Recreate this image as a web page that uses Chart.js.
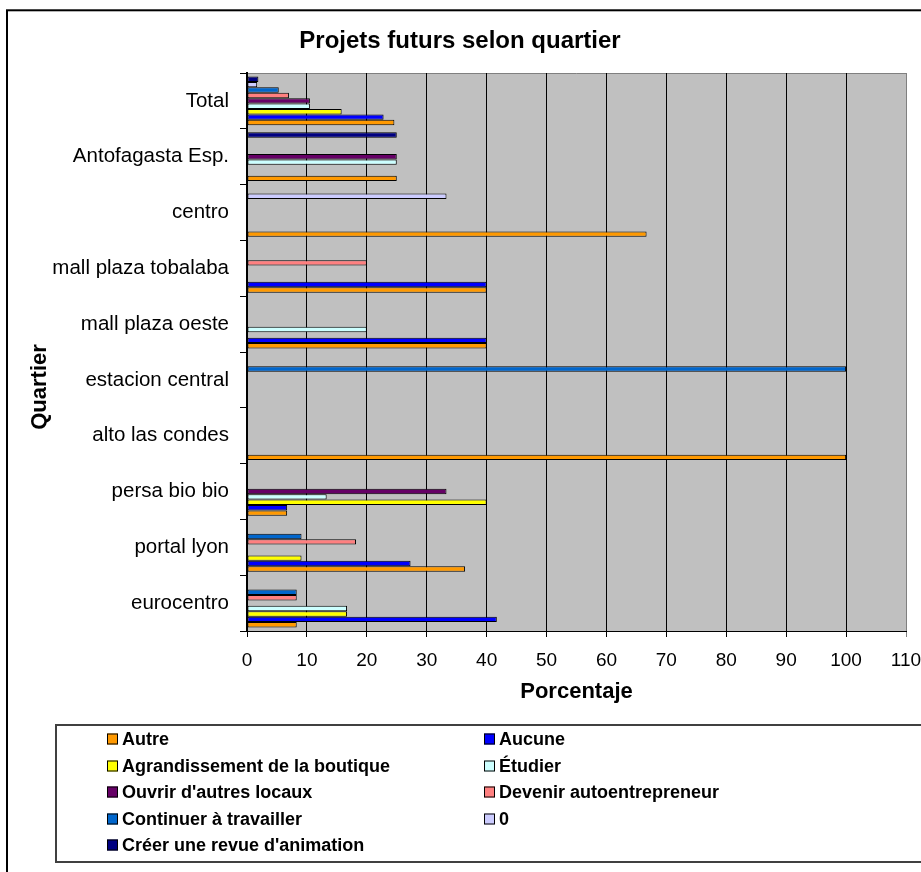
<!DOCTYPE html>
<html>
<head>
<meta charset="utf-8">
<script src="https://cdn.jsdelivr.net/npm/chart.js@4.4.1/dist/chart.umd.min.js"></script>
<style>
  html, body { margin: 0; padding: 0; background: #ffffff; }
  #wrap { width: 921px; height: 872px; position: relative; }
</style>
</head>
<body>
<div id="wrap"><canvas id="c" width="921" height="872"></canvas></div>
<script>
// Districts, top to bottom
const quartiers = ['Total', 'Antofagasta Esp.', 'centro', 'mall plaza tobalaba', 'mall plaza oeste',
  'estacion central', 'alto las condes', 'persa bio bio', 'portal lyon', 'eurocentro'];

// Share of answers (%) per future project
const autre          = [24.6, 25, 66.7, 40, 40, null, 100, 6.7, 36.4, 8.3];
const aucune         = [22.8, null, null, 40, 40, null, null, 6.7, 27.3, 41.7];
const agrandissement = [15.8, null, null, null, null, null, null, 40, 9.1, 16.7];
const etudier        = [10.5, 25, null, null, 20, null, null, 13.3, null, 16.7];
const ouvrir         = [10.5, 25, null, null, null, null, null, 33.3, null, null];
const devenir        = [7.0, null, null, 20, null, null, null, null, 18.2, 8.3];
const continuer      = [5.3, null, null, null, null, 100, null, null, 9.1, 8.3];
const zero           = [1.7, null, 33.3, null, null, null, null, null, null, null];
const creer          = [1.9, 25, null, null, null, null, null, null, null, null];

const seriesNames = ['Autre', 'Aucune', 'Agrandissement de la boutique', 'Étudier',
  "Ouvrir d'autres locaux", 'Devenir autoentrepreneur', 'Continuer à travailler', '0',
  "Créer une revue d'animation"];
const seriesValues = [autre, aucune, agrandissement, etudier, ouvrir, devenir, continuer, zero, creer];
const seriesColors = ['#FF9900', '#0000FF', '#FFFF00', '#CCFFFF', '#660066', '#FF8080',
  '#0066CC', '#CCCCFF', '#000080'];

const xTicks = [0, 10, 20, 30, 40, 50, 60, 70, 80, 90, 100, 110];

const FONT = "'Liberation Sans', Arial, sans-serif";

// First series sits at the bottom of each group, so datasets are added in reverse
const datasets = seriesNames.map((name, i) => ({
  label: name,
  data: seriesValues[i],
  backgroundColor: seriesColors[i],
  borderColor: '#000000',
  borderWidth: 1,
  borderSkipped: false,
  barPercentage: 1.0,
  categoryPercentage: 0.873,
  legendOrder: i
})).reverse();

const frame = {
  id: 'frame',
  beforeDraw(chart) {
    const ctx = chart.ctx;
    const a = chart.chartArea;
    ctx.save();
    ctx.fillStyle = '#ffffff';
    ctx.fillRect(0, 0, chart.width, chart.height);
    ctx.fillStyle = '#C0C0C0';
    ctx.fillRect(a.left, a.top, a.right - a.left, a.bottom - a.top);
    ctx.strokeStyle = '#808080';
    ctx.lineWidth = 1;
    ctx.beginPath();
    ctx.moveTo(a.left, a.top + 0.5);
    ctx.lineTo(a.right, a.top + 0.5);
    ctx.stroke();
    ctx.restore();
  },
  afterDraw(chart) {
    const ctx = chart.ctx;
    const a = chart.chartArea;
    ctx.save();
    // outer chart border
    ctx.strokeStyle = '#000000';
    ctx.lineWidth = 2;
    ctx.strokeRect(7, 10.3, 940, 900);

    // title
    ctx.fillStyle = '#000000';
    ctx.textAlign = 'center';
    ctx.textBaseline = 'middle';
    ctx.font = 'bold 24px ' + FONT;
    ctx.fillText('Projets futurs selon quartier', 460, 41);

    // axis titles
    ctx.font = 'bold 22px ' + FONT;
    ctx.fillText('Porcentaje', (a.left + a.right) / 2, 692);
    ctx.save();
    ctx.translate(40, 387);
    ctx.rotate(-Math.PI / 2);
    ctx.fillText('Quartier', 0, 0);
    ctx.restore();

    // legend box
    ctx.strokeStyle = '#404040';
    ctx.lineWidth = 2;
    ctx.strokeRect(56, 725, 900, 137);
    const cols = [107, 484];
    const rows = [739, 766, 792, 819, 845];
    ctx.font = 'bold 18px ' + FONT;
    ctx.textAlign = 'left';
    const ordered = chart.data.datasets.slice().sort((p, q) => p.legendOrder - q.legendOrder);
    ordered.forEach((ds, i) => {
      const x = cols[i % 2];
      const y = rows[Math.floor(i / 2)];
      ctx.fillStyle = ds.backgroundColor;
      ctx.fillRect(x, y - 5.5, 11, 11);
      ctx.strokeStyle = '#000000';
      ctx.lineWidth = 1;
      ctx.strokeRect(x + 0.5, y - 5, 10, 10);
      ctx.fillStyle = '#000000';
      ctx.fillText(ds.label, x + 15, y + 1);
    });
    ctx.restore();
  }
};

new Chart(document.getElementById('c'), {
  type: 'bar',
  data: { labels: quartiers, datasets: datasets },
  options: {
    indexAxis: 'y',
    responsive: false,
    animation: false,
    devicePixelRatio: 1,
    layout: { padding: { top: 73, right: 15, bottom: 0, left: 0 } },
    plugins: { legend: { display: false }, title: { display: false }, tooltip: { enabled: false } },
    scales: {
      x: {
        type: 'linear',
        min: 0,
        max: 110,
        afterBuildTicks(scale) { scale.ticks = xTicks.map(v => ({ value: v })); },
        afterFit(scale) { scale.height = 872 - 631; scale.paddingLeft = 0; scale.paddingRight = 0; },
        border: { display: true, color: '#000000', width: 1 },
        grid: {
          color: ctx => ctx.tick && ctx.tick.value === 110 ? '#808080' : '#000000',
          lineWidth: 1,
          tickLength: 6,
          drawTicks: true
        },
        ticks: { color: '#000000', font: { family: FONT, size: 19 }, padding: 12, maxRotation: 0, autoSkip: false }
      },
      y: {
        type: 'category',
        offset: true,
        afterFit(scale) { scale.width = 247; },
        border: { display: true, color: '#000000', width: 2 },
        grid: { offset: true, drawOnChartArea: false, drawTicks: true, tickLength: 7, color: '#000000', lineWidth: 1 },
        ticks: { color: '#000000', font: { family: FONT, size: 20.5 }, padding: 11, autoSkip: false }
      }
    }
  },
  plugins: [frame]
});
</script>
</body>
</html>
